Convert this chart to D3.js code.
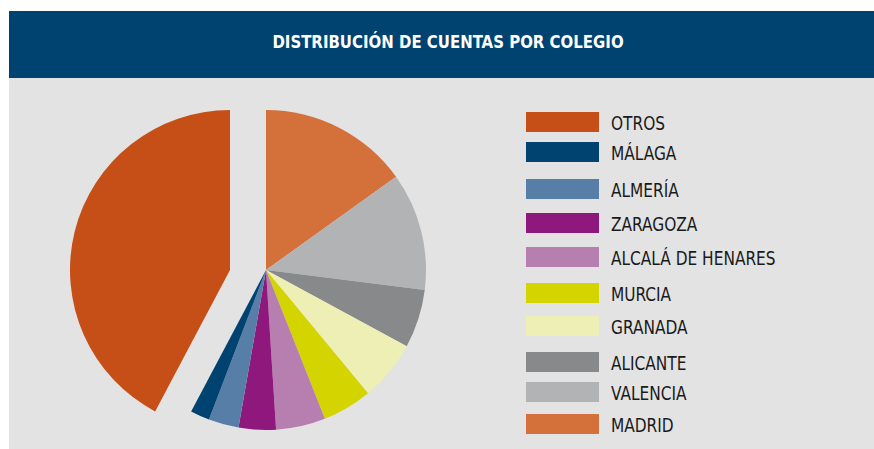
<!DOCTYPE html>
<html>
<head>
<meta charset="utf-8">
<script src="https://cdn.jsdelivr.net/npm/d3@7"></script>
<style>
  html, body { margin: 0; padding: 0; background: #ffffff; }
  svg { display: block; }
</style>
</head>
<body>
<svg id="chart" width="874" height="449"></svg>
<script>
// ---- data (pie order, clockwise from 12 o'clock) ----
const categories = ["MADRID", "VALENCIA", "ALICANTE", "GRANADA", "MURCIA",
                    "ALCALÁ DE HENARES", "ZARAGOZA", "ALMERÍA", "MÁLAGA", "OTROS"];
const shares = [15.1, 11.9, 5.9, 6.1, 5.0, 5.0, 3.75, 3.05, 1.95, 42.25];
const colors = ["#d4703a", "#b2b3b4", "#88898b", "#eeefb4", "#d4d400",
                "#b77fb0", "#8e187c", "#577ea7", "#004270", "#c64f17"];
const legendOrder = ["OTROS", "MÁLAGA", "ALMERÍA", "ZARAGOZA", "ALCALÁ DE HENARES",
                     "MURCIA", "GRANADA", "ALICANTE", "VALENCIA", "MADRID"];
const explodedCategory = "OTROS";
const title = "DISTRIBUCIÓN DE CUENTAS POR COLEGIO";

// ---- layout ----
const svg = d3.select("#chart");
const W = 874, H = 449;
const panel = { x: 9, y: 11, headerH: 67 };
const cx = 266, cy = 270, R = 160, explodeDx = -36;
const legendX = 526, swatchW = 73, swatchH = 20, textX = 611;
const legendRowY = [122, 152, 189, 223, 257, 293, 326, 362, 392, 424];
const fontFamily = "'DejaVu Sans Condensed', 'DejaVu Sans', sans-serif";
const squeeze = 0.9;

// background panel
svg.append("rect").attr("x", panel.x).attr("y", panel.y + panel.headerH)
  .attr("width", W - panel.x).attr("height", H - panel.y - panel.headerH)
  .attr("fill", "#e3e3e3");
svg.append("rect").attr("x", panel.x).attr("y", panel.y)
  .attr("width", W - panel.x).attr("height", panel.headerH)
  .attr("fill", "#004270");

svg.append("text")
  .attr("transform", `translate(448,47.5) scale(${squeeze},1)`)
  .attr("text-anchor", "middle")
  .attr("fill", "#ffffff")
  .attr("font-family", fontFamily)
  .attr("font-weight", "bold")
  .attr("font-size", 18.5)
  .text(title);

// pie
const color = d3.scaleOrdinal().domain(categories).range(colors);
const pie = d3.pie().sort(null).value(d => d.v);
const arc = d3.arc().innerRadius(0).outerRadius(R);
const data = categories.map((c, i) => ({ c, v: shares[i] }));

const g = svg.append("g").attr("transform", `translate(${cx},${cy})`);
g.selectAll("path").data(pie(data)).join("path")
  .attr("d", arc)
  .attr("fill", d => color(d.data.c))
  .attr("transform", d => d.data.c === explodedCategory ? `translate(${explodeDx},0)` : null);

// legend
const lg = svg.append("g");
legendOrder.forEach((c, i) => {
  const y = legendRowY[i];
  lg.append("rect")
    .attr("x", legendX).attr("y", y - swatchH / 2)
    .attr("width", swatchW).attr("height", swatchH)
    .attr("fill", color(c));
  lg.append("text")
    .attr("transform", `translate(${textX},${y + 7.5}) scale(${squeeze},1)`)
    .attr("fill", "#1a1a1a")
    .attr("font-family", fontFamily)
    .attr("font-size", 19)
    .text(c);
});
</script>
</body>
</html>
